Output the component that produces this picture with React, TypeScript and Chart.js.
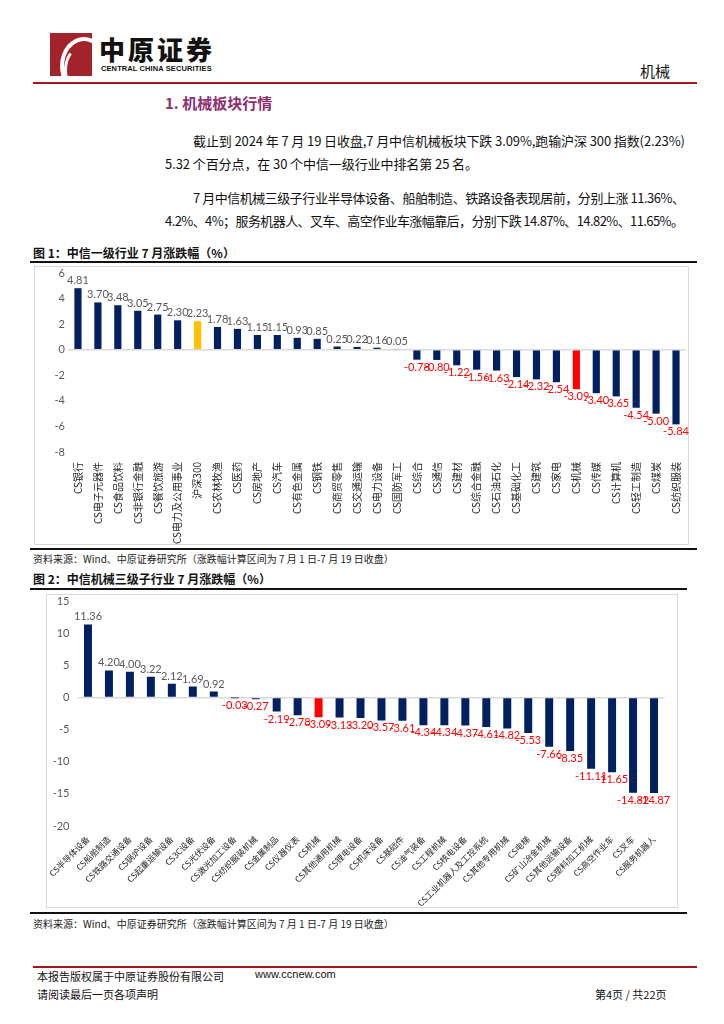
import React, { useEffect, useLayoutEffect, useRef } from "react";
import { Chart, registerables } from "chart.js";

Chart.register(...registerables);

// ---------- Data ----------
const industryLabels = [
  "CS银行", "CS电子元器件", "CS食品饮料", "CS非银行金融", "CS餐饮旅游", "CS电力及公用事业", "沪深300",
  "CS农林牧渔", "CS医药", "CS房地产", "CS汽车", "CS有色金属", "CS钢铁", "CS商贸零售", "CS交通运输",
  "CS电力设备", "CS国防军工", "CS综合", "CS通信", "CS建材", "CS综合金融", "CS石油石化", "CS基础化工",
  "CS建筑", "CS家电", "CS机械", "CS传媒", "CS计算机", "CS轻工制造", "CS煤炭", "CS纺织服装",
];
const industryValues = [
  4.81, 3.70, 3.48, 3.05, 2.75, 2.30, 2.23, 1.78, 1.63, 1.15, 1.15, 0.93, 0.85, 0.25, 0.22, 0.16, 0.05,
  -0.78, -0.80, -1.22, -1.56, -1.63, -2.14, -2.32, -2.54, -3.09, -3.40, -3.65, -4.54, -5.00, -5.84,
];
const industryAxis = { min: -8, max: 6, step: 2 };

const subLabels = [
  "CS半导体设备", "CS船舶制造", "CS铁路交通设备", "CS锅炉设备", "CS起重运输设备", "CS3C设备", "CS光伏设备",
  "CS激光加工设备", "CS纺织服装机械", "CS金属制品", "CS仪器仪表", "CS机械", "CS其他通用机械", "CS锂电设备",
  "CS机床设备", "CS基础件", "CS油气装备", "CS工程机械", "CS核电设备", "CS工业机器人及工控系统", "CS其他专用机械",
  "CS电梯", "CS矿山冶金机械", "CS其他运输设备", "CS塑料加工机械", "CS高空作业车", "CS叉车", "CS服务机器人",
];
const subValues = [
  11.36, 4.20, 4.00, 3.22, 2.12, 1.69, 0.92, -0.03, -0.27, -2.19, -2.78, -3.09, -3.13, -3.20, -3.57, -3.61,
  -4.34, -4.34, -4.37, -4.61, -4.82, -5.53, -7.66, -8.35, -11.11, -11.65, -14.82, -14.87,
];
const subAxis = { min: -20, max: 15, step: 5 };

const highlightGold = ["沪深300"];
const highlightRed = ["CS机械"];

// ---------- Styles ----------
const NAVY = "#002060";
const GOLD = "#FFC000";
const RED = "#FF0000";
const CJK = "'Noto Sans CJK SC', sans-serif";
const NUMF = "Lato, 'Noto Sans CJK SC', sans-serif";

const valueLabelPlugin = {
  id: "valueLabels",
  afterDatasetsDraw(chart: any, _args: any, opts: any) {
    const { ctx } = chart;
    const meta = chart.getDatasetMeta(0);
    const data = chart.data.datasets[0].data as number[];
    ctx.save();
    ctx.font = opts.font;
    ctx.textAlign = "center";
    meta.data.forEach((bar: any, i: number) => {
      const v = data[i];
      const txt = v.toFixed(2);
      if (v >= 0) {
        ctx.fillStyle = opts.pos;
        ctx.textBaseline = "bottom";
        ctx.fillText(txt, bar.x, bar.y - opts.gap);
      } else {
        ctx.fillStyle = opts.neg;
        ctx.textBaseline = "top";
        ctx.fillText(txt, bar.x, bar.y + opts.gap);
      }
    });
    ctx.restore();
  },
};

type BarProps = {
  labels: string[];
  values: number[];
  axis: { min: number; max: number; step: number };
  width: number;
  height: number;
  yWidth: number;
  xHeight: number;
  padTop: number;
  padRight: number;
  tickPad: number;
  rotation: number;
  xFont: number;
  xPad: number;
  barFrac: number;
};

function BarChart(p: BarProps) {
  const ref = useRef<HTMLCanvasElement | null>(null);
  useEffect(() => {
    if (!ref.current) return;
    const colors = p.labels.map((l) =>
      highlightGold.includes(l) ? GOLD : highlightRed.includes(l) ? RED : NAVY
    );
    const chart = new Chart(ref.current, {
      type: "bar",
      data: {
        labels: p.labels,
        datasets: [
          {
            data: p.values,
            backgroundColor: colors,
            barPercentage: p.barFrac,
            categoryPercentage: 1,
          },
        ],
      },
      options: {
        animation: false,
        responsive: false,
        maintainAspectRatio: false,
        layout: { padding: { top: p.padTop, right: p.padRight, left: 0, bottom: 0 } },
        plugins: {
          legend: { display: false },
          tooltip: { enabled: false },
          valueLabels: { font: `11px ${NUMF}`, pos: "#595959", neg: RED, gap: 2 },
        } as any,
        scales: {
          x: {
            grid: { display: false },
            border: { display: false },
            ticks: {
              autoSkip: false,
              maxRotation: p.rotation,
              minRotation: p.rotation,
              color: "#262626",
              font: { family: CJK, size: p.xFont },
              padding: p.xPad,
            },
            afterFit(s: any) {
              s.height = p.xHeight;
              s.paddingLeft = 0;
              s.paddingRight = 0;
            },
          },
          y: {
            min: p.axis.min,
            max: p.axis.max,
            ticks: {
              stepSize: p.axis.step,
              color: "#595959",
              font: { family: NUMF, size: 11 },
              padding: p.tickPad,
            },
            grid: {
              drawTicks: false,
              color: (c: any) => (c.tick && c.tick.value === 0 ? "#d9d9d9" : "rgba(0,0,0,0)"),
              lineWidth: 1.5,
            },
            border: { display: false },
            afterFit(s: any) {
              s.width = p.yWidth;
              s.paddingTop = 0;
              s.paddingBottom = 0;
            },
          },
        },
      },
      plugins: [valueLabelPlugin as any],
    });
    return () => chart.destroy();
  }, []);
  return (
    <canvas
      ref={ref}
      width={p.width}
      height={p.height}
      style={{ width: p.width, height: p.height, display: "block" }}
    />
  );
}

const abs = (l: number, t: number, extra: React.CSSProperties = {}): React.CSSProperties => ({
  position: "absolute",
  left: l,
  top: t,
  ...extra,
});

function FitLine(props: { left: number; top: number; width: number; text: string; style?: React.CSSProperties }) {
  const ref = useRef<HTMLDivElement | null>(null);
  useLayoutEffect(() => {
    const el = ref.current;
    if (!el) return;
    el.style.letterSpacing = "0px";
    const natural = el.getBoundingClientRect().width;
    const n = Array.from(props.text).length;
    el.style.letterSpacing = `${(props.width - natural) / Math.max(1, n - 1)}px`;
  }, []);
  return (
    <div
      ref={ref}
      style={{
        position: "absolute",
        left: props.left,
        top: props.top,
        whiteSpace: "nowrap",
        display: "inline-block",
        ...props.style,
      }}
    >
      {props.text}
    </div>
  );
}

export default function App() {
  const body: React.CSSProperties = {
    fontFamily: CJK,
    fontSize: 13,
    color: "#111",
    lineHeight: "18px",
  };
  return (
    <div style={{ position: "absolute", left: 0, top: 0, width: 724, height: 1024, background: "#fff", overflow: "hidden", fontFamily: CJK }}>
      {/* Logo */}
      <div style={abs(50, 33, { width: 42, height: 43, background: "#A3232B", overflow: "hidden" })}>
        <div style={abs(10, 4, { width: 40, height: 50, borderRadius: "50%", border: "4px solid #fff", borderRightColor: "transparent", borderBottomColor: "transparent" })} />
        <div style={abs(14, 14, { width: 26, height: 40, borderRadius: "50%", border: "3px solid #fff", borderTopColor: "transparent", borderRightColor: "transparent" })} />
      </div>
      <div style={abs(99, 34, { fontSize: 26, fontWeight: 900, letterSpacing: 3, color: "#111", lineHeight: "30px" })}>中原证券</div>
      <div style={abs(101, 64, { fontSize: 7.5, fontWeight: 700, fontFamily: "'Liberation Sans', sans-serif", color: "#111", letterSpacing: 0.1 })}>CENTRAL CHINA SECURITIES</div>
      <div style={abs(640, 60, { fontSize: 15, color: "#111" })}>机械</div>
      <div style={abs(33, 82, { width: 664, height: 2, background: "#A0171E" })} />

      {/* Section title */}
      <div style={abs(165, 92, { fontSize: 15, fontWeight: 700, color: "#8E2F6E" })}>1. 机械板块行情</div>

      {/* Paragraphs */}
      <FitLine left={193} top={132} width={492} style={body} text="截止到 2024 年 7 月 19 日收盘,7 月中信机械板块下跌 3.09%,跑输沪深 300 指数(2.23%)" />
      <FitLine left={165} top={155} width={313} style={body} text="5.32 个百分点，在 30 个中信一级行业中排名第 25 名。" />
      <FitLine left={193} top={189} width={492} style={body} text="7 月中信机械三级子行业半导体设备、船舶制造、铁路设备表现居前，分别上涨 11.36%、" />
      <FitLine left={165} top={212} width={519} style={body} text="4.2%、4%；服务机器人、叉车、高空作业车涨幅靠后，分别下跌 14.87%、14.82%、11.65%。" />

      {/* Figure 1 */}
      <div style={abs(33, 244, { fontSize: 12, fontWeight: 700, color: "#111" })}>图 1：中信一级行业 7 月涨跌幅（%）</div>
      <div style={abs(30, 261, { width: 667, height: 2, background: "#111" })} />
      <div style={abs(34, 266, { width: 655, height: 279, border: "1px solid #d9d9d9", boxSizing: "border-box" })} />
      <div style={abs(34, 266)}>
        <BarChart
          labels={industryLabels}
          values={industryValues}
          axis={industryAxis}
          width={656}
          height={279}
          yWidth={34}
          xHeight={93}
          padTop={7}
          padRight={4}
          tickPad={3}
          rotation={90}
          xFont={10}
          xPad={2}
          barFrac={0.36}
        />
      </div>
      <div style={abs(30, 548, { width: 667, height: 2, background: "#111" })} />
      <div style={abs(33, 551, { fontSize: 10, color: "#222" })}>资料来源：Wind、中原证券研究所（涨跌幅计算区间为 7 月 1 日-7 月 19 日收盘）</div>

      {/* Figure 2 */}
      <div style={abs(33, 570, { fontSize: 12, fontWeight: 700, color: "#111" })}>图 2：中信机械三级子行业 7 月涨跌幅（%）</div>
      <div style={abs(30, 588, { width: 657, height: 2, background: "#111" })} />
      <div style={abs(46, 594, { width: 632, height: 314, border: "1px solid #d9d9d9", boxSizing: "border-box" })} />
      <div style={abs(46, 594)}>
        <BarChart
          labels={subLabels}
          values={subValues}
          axis={subAxis}
          width={632}
          height={314}
          yWidth={31.5}
          xHeight={82}
          padTop={7}
          padRight={13.5}
          tickPad={8}
          rotation={45}
          xFont={8.5}
          xPad={0}
          barFrac={0.38}
        />
      </div>
      <div style={abs(30, 912, { width: 657, height: 2, background: "#111" })} />
      <div style={abs(33, 916, { fontSize: 10, color: "#222" })}>资料来源：Wind、中原证券研究所（涨跌幅计算区间为 7 月 1 日-7 月 19 日收盘）</div>

      {/* Footer */}
      <div style={abs(33, 966, { width: 664, height: 2, background: "#A0171E" })} />
      <div style={abs(37, 968, { fontSize: 11, color: "#111" })}>本报告版权属于中原证券股份有限公司</div>
      <div style={abs(255, 968, { fontSize: 11, color: "#111", fontFamily: "'Liberation Sans', sans-serif" })}>www.ccnew.com</div>
      <div style={abs(37, 986, { fontSize: 11, color: "#111" })}>请阅读最后一页各项声明</div>
      <div style={abs(595, 986, { fontSize: 11, color: "#111" })}>第4页 / 共22页</div>
    </div>
  );
}
